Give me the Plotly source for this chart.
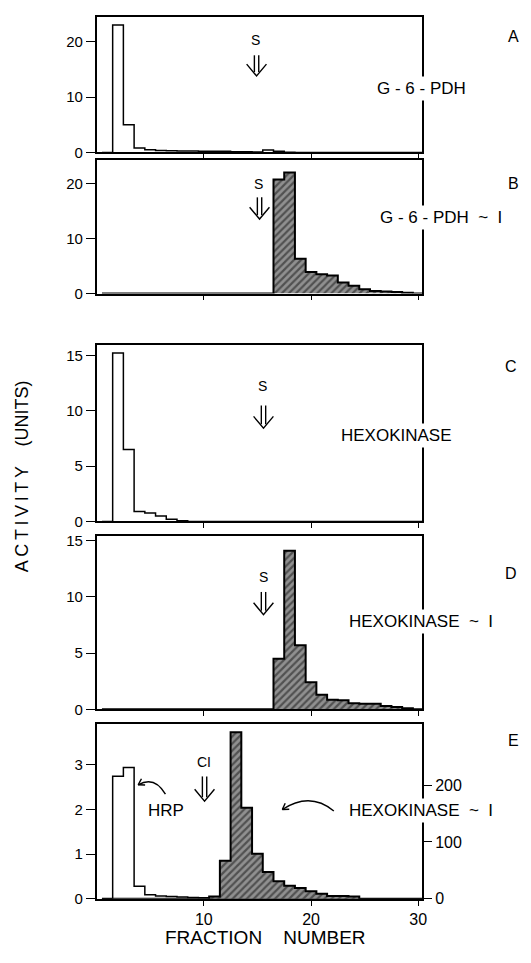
import math
import plotly.graph_objects as go

W, H = 531, 963

# ---------------- data ----------------
fractions = list(range(1, 31))

# Panel A: G-6-PDH (open histogram)
g6pdh = [0, 23.0, 5.0, 0.8, 0.5, 0.35, 0.3, 0.25, 0.25, 0.2, 0.2, 0.2, 0.15, 0.15, 0.1,
         0.45, 0.2, 0.05, 0, 0, 0, 0, 0, 0, 0, 0, 0, 0, 0, 0]
# Panel B: G-6-PDH~I (hatched)
g6pdh_conj = [0] * 16 + [20.7, 22.0, 6.3, 3.9, 3.5, 3.3, 2.0, 1.4, 0.8, 0.45, 0.35, 0.3, 0.15, 0]
# Panel C: Hexokinase (open)
hexokinase = [0, 15.2, 6.5, 0.9, 0.75, 0.5, 0.2, 0.05] + [0] * 22
# Panel D: Hexokinase~I (hatched)
hexokinase_conj = [0] * 16 + [4.5, 14.1, 5.7, 2.4, 1.3, 0.85, 0.8, 0.55, 0.5, 0.5, 0.3, 0.2, 0.1, 0]
# Panel E: HRP (left axis, open) and Hexokinase~I (right axis, hatched)
hrp = [0, 2.74, 2.94, 0.28, 0.09, 0.06, 0.05, 0.04, 0.03, 0.02] + [0] * 20
hexokinase_conj_e = [0] * 10 + [4, 67, 293, 160, 79, 47, 31, 23, 19, 13, 9, 5, 5, 4, 0, 0, 0, 0, 0, 0]

y_ticks_a = [0, 10, 20]
y_ticks_b = [0, 10, 20]
y_ticks_c = [0, 5, 10, 15]
y_ticks_d = [0, 5, 10, 15]
y_ticks_e = [0, 1, 2, 3]
y_ticks_e_right = [0, 100, 200]
x_ticks = [10, 20, 30]

# ---------------- helpers ----------------
def px(x):
    return x / W


def py(y):
    return 1 - y / H


def step_xy(vals):
    xs = [f - 0.5 for f in fractions] + [fractions[-1] + 0.5]
    ys = list(vals) + [vals[-1]]
    return xs, ys


FONT = "Liberation Sans, Arial, sans-serif"
HATCH = dict(shape="/", fgcolor="#111111", bgcolor="#909090", size=5, solidity=0.45)

fig = go.Figure()


def add_hist(vals, xa, ya, hatched):
    xs, ys = step_xy(vals)
    kw = dict(x=xs, y=ys, mode="lines", line=dict(shape="hv", color="black",
              width=2 if hatched else 1.5), xaxis=xa, yaxis=ya, showlegend=False,
              hoverinfo="skip")
    if hatched:
        kw.update(fill="tozeroy", fillcolor="#909090", fillpattern=HATCH)
    fig.add_trace(go.Scatter(**kw))


add_hist(g6pdh, "x", "y", False)
add_hist(g6pdh_conj, "x2", "y2", True)
add_hist(hexokinase, "x3", "y3", False)
add_hist(hexokinase_conj, "x4", "y4", True)
add_hist(hrp, "x5", "y5", False)
add_hist(hexokinase_conj_e, "x5", "y6", True)

# ---------------- axes ----------------
x_dom = [px(97.5), px(426)]
panels = [
    # (top px, bottom px, ymax, ticks)
    (13.0, 150.5, 24.5, y_ticks_a),
    (158.5, 293.5, 24.2, y_ticks_b),
    (346.0, 524.5, 15.9, y_ticks_c),
    (539.5, 715.0, 15.4, y_ticks_d),
    (729.5, 907.0, 3.92, y_ticks_e),
]

layout = dict(
    width=W, height=H, autosize=False,
    margin=dict(l=0, r=0, t=0, b=0),
    paper_bgcolor="white", plot_bgcolor="white",
    font=dict(family=FONT, color="black", size=14),
    showlegend=False,
)

for i, (top, bot, ymax, ticks) in enumerate(panels):
    n = i + 1
    xk = "xaxis" if n == 1 else f"xaxis{n}"
    yk = "yaxis" if n == 1 else f"yaxis{n}"
    ya = "y" if n == 1 else f"y{n}"
    xa = "x" if n == 1 else f"x{n}"
    layout[xk] = dict(
        domain=x_dom, range=[0.0, 30.35], anchor=ya,
        tickvals=x_ticks, ticks="outside", ticklen=5, tickwidth=1.3, tickcolor="black",
        showticklabels=(n == 5), tickfont=dict(size=16),
        showline=True, mirror=True, linecolor="black", linewidth=1.5,
        showgrid=False, zeroline=False, fixedrange=True,
    )
    layout[yk] = dict(
        domain=[py(bot), py(top)], range=[0, ymax], anchor=xa,
        tickvals=ticks, ticks="outside", ticklen=9, tickwidth=1.3, tickcolor="black",
        tickfont=dict(size=15),
        showline=True, mirror=True, linecolor="black", linewidth=1.5,
        showgrid=False, zeroline=False, fixedrange=True,
    )

layout["yaxis6"] = dict(
    overlaying="y5", side="right", anchor="x5", range=[0, 308],
    tickvals=y_ticks_e_right, ticks="outside", ticklen=9, tickwidth=1.3, tickcolor="black",
    tickfont=dict(size=16), showline=False, showgrid=False, zeroline=False, fixedrange=True,
)

fig.update_layout(**layout)

# ---------------- annotations ----------------
ann = []


def text(x, y, s, size=16, bg=None, angle=0):
    d = dict(x=px(x), y=py(y), xref="paper", yref="paper", text=s, showarrow=False,
             font=dict(size=size, family=FONT, color="black"), xanchor="center",
             yanchor="middle", textangle=angle)
    if bg:
        d.update(bgcolor=bg, borderpad=2)
    ann.append(d)


text(518, 33, "A")
text(518, 182, "B")
text(516, 367, "C")
text(516, 577, "D")
text(518, 747, "E")

text(426, 86, "G - 6 - PDH", 17, bg="white")
text(445, 216, "G - 6 - PDH  ~  I", 17, bg="white")
text(400, 437, "HEXOKINASE", 17, bg="white")
text(425, 626, "HEXOKINASE  ~  I", 17, bg="white")
text(425, 818, "HEXOKINASE  ~  I", 17, bg="white")
text(168, 818, "HRP", 17)
text(206, 768, "CI", 14)

text(258, 36, "S", 14)
text(261, 182, "S", 14)
text(265, 387, "S", 14)
text(266, 581, "S", 14)

ts = "\u2009"
text(22, 479, ts.join("ACTIVITY") + "    (UNITS)", 18, angle=-90)
text(268, 946, "FRACTION    NUMBER", 19)

fig.update_layout(annotations=ann)

# ---------------- arrows ----------------
shapes = []


def pline(points):
    path = "M " + " L ".join(f"{px(x):.5f},{py(y):.5f}" for x, y in points)
    shapes.append(dict(type="path", path=path, xref="paper", yref="paper",
                       line=dict(color="black", width=1.4)))


def dbl_arrow(xc, top, tip, hw=10, vh=12, gap=2.2):
    pline([(xc - gap, top), (xc - gap, tip - 4)])
    pline([(xc + gap, top), (xc + gap, tip - 4)])
    pline([(xc - hw, tip - vh), (xc, tip), (xc + hw, tip - vh)])


dbl_arrow(259, 52, 73)
dbl_arrow(262, 196, 218)
dbl_arrow(266, 407, 430)
dbl_arrow(266, 596, 619)
dbl_arrow(206.5, 783, 808)


def curve_arrow(start, ctrl, tip, head=7):
    path = (f"M {px(start[0]):.5f},{py(start[1]):.5f} Q {px(ctrl[0]):.5f},{py(ctrl[1]):.5f} "
            f"{px(tip[0]):.5f},{py(tip[1]):.5f}")
    shapes.append(dict(type="path", path=path, xref="paper", yref="paper",
                       line=dict(color="black", width=1.4)))
    dx, dy = tip[0] - ctrl[0], tip[1] - ctrl[1]
    ang = math.atan2(dy, dx)
    for s in (-1, 1):
        a = ang + math.pi + s * math.radians(32)
        pline([(tip[0] + head * math.cos(a), tip[1] + head * math.sin(a)), tip])


curve_arrow((167, 801), (156, 782), (139.5, 791.5))
curve_arrow((337, 818), (313, 798), (285, 816.5))

fig.update_layout(shapes=shapes)

fig.write_html(
    "out.html",
    config={"displayModeBar": False},
    post_script="document.body.style.margin='0';document.body.style.overflow='hidden';",
)
